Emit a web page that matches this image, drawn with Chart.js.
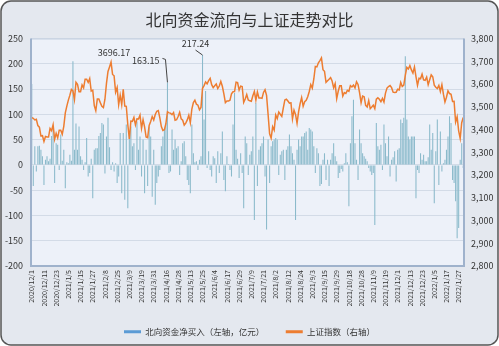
<!DOCTYPE html>
<html>
<head>
<meta charset="utf-8">
<script src="https://cdn.jsdelivr.net/npm/chart.js@4.4.0/dist/chart.umd.min.js"></script>
<style>
  html, body { margin: 0; padding: 0; background: #fff; }
  canvas { display: block; }
</style>
</head>
<body>
<canvas id="chart" width="499" height="346"></canvas>
<script>
// one tick label every 8 trading days
const tickLabels = [
  '2020/12/1', '2020/12/11', '2020/12/23', '2021/1/5', '2021/1/15', '2021/1/27',
  '2021/2/8', '2021/2/25', '2021/3/9', '2021/3/19', '2021/3/31', '2021/4/16',
  '2021/4/28', '2021/5/13', '2021/5/25', '2021/6/4', '2021/6/17', '2021/6/29',
  '2021/7/9', '2021/7/21', '2021/8/2', '2021/8/12', '2021/8/24', '2021/9/3',
  '2021/9/15', '2021/9/29', '2021/10/18', '2021/10/28', '2021/11/9', '2021/11/19',
  '2021/12/1', '2021/12/13', '2021/12/23', '2022/1/5', '2022/1/17', '2022/1/27'
];

// 北向资金净买入 (亿元)
const netBuy = [
  160, -42, 37, -13, 37, 38, 30, 17,
  -40, 10, 17, 7, 12, 57, 76, -36,
  43, 40, -10, 60, 8, 30, -46, 5,
  3, 20, 8, 205, 30, 82, 30, 76,
  17, 10, -10, 5, 53, -23, -16, 12,
  -66, 30, 33, 33, 57, 63, 83, 80,
  -17, 56, 93, 35, -10, 5, -13, 3,
  -36, -23, 63, -56, 63, -69, 80, -86,
  63, 76, 37, 43, -10, 86, 30, 56,
  -23, 50, -56, 30, -42, 76, 56, -63,
  30, -79, -36, -23, -10, 37, 56, 70,
  83, 163.15, -16, -13, 70, 30, 50, 33,
  37, -20, 7, 43, 47, 17, -30, -40,
  -56, 80, 23, 5, 7, -10, 10, 17,
  217.24, 90, 146, -6, 27, -10, -23, 17,
  13, -36, 27, -16, 23, 66, -30, -52,
  17, 2, -10, -23, 80, 142, 30, 12,
  -26, 23, -16, -86, 56, 43, -20, 20,
  27, 56, -109, 123, -42, 30, 37, 43,
  56, -23, -128, 50, -36, 37, 47, 50,
  53, 50, -20, 20, 27, 30, -30, 30,
  37, 60, 37, 23, 10, -109, 30, 50,
  37, 56, 56, 63, 66, 30, 73, 70,
  66, 37, -16, 33, 23, -42, -38, 10,
  23, -30, 10, -42, 10, 23, 43, 17,
  7, -26, -16, -8, -13, 3, 23, 5,
  -82, 43, 96, 129, 43, 10, -30, 70,
  43, 23, 17, 12, 7, -6, -13, -20,
  -16, -119, 83, 37, 30, 40, -10, 80,
  43, 17, 56, -23, 10, 15, 27, -33,
  30, 33, 90, 83, 93, 215, 90, 56,
  50, 56, 56, 56, -66, -10, -16, 23,
  10, 20, 7, 7, 15, 80, 30, 63,
  -76, 27, 90, -40, 66, -13, 3, 10,
  30, 56, 96, 83, -30, -36, -72, -145,
  -125, 10, 43, -6
];

// 上证指数 close
const shIndex = [
  3452, 3449, 3442, 3445, 3417, 3410, 3372, 3373,
  3347, 3369, 3367, 3367, 3405, 3395, 3421, 3357,
  3383, 3363, 3397, 3397, 3379, 3414, 3473, 3503,
  3529, 3551, 3576, 3570, 3532, 3608, 3599, 3566,
  3566, 3596, 3583, 3621, 3621, 3607, 3624, 3569,
  3573, 3505, 3483, 3534, 3534, 3517, 3502, 3496,
  3533, 3603, 3655, 3675, 3696.17, 3642, 3636, 3564,
  3585, 3509, 3551, 3509, 3577, 3503, 3502, 3421,
  3359, 3437, 3436, 3453, 3420, 3447, 3446, 3463,
  3405, 3443, 3412, 3367, 3364, 3418, 3435, 3457,
  3442, 3466, 3480, 3483, 3451, 3413, 3396, 3399,
  3427, 3478, 3473, 3472, 3465, 3474, 3441, 3443,
  3457, 3475, 3447, 3441, 3419, 3428, 3442, 3463,
  3430, 3490, 3518, 3529, 3511, 3507, 3487, 3497,
  3581, 3593, 3609, 3601, 3615, 3625, 3597, 3584,
  3592, 3600, 3580, 3591, 3611, 3590, 3557, 3518,
  3525, 3525, 3529, 3557, 3566, 3567, 3608, 3606,
  3573, 3591, 3589, 3519, 3534, 3554, 3530, 3526,
  3524, 3548, 3567, 3529, 3565, 3539, 3539, 3537,
  3563, 3575, 3550, 3467, 3381, 3362, 3412, 3397,
  3464, 3448, 3477, 3467, 3458, 3495, 3530, 3533,
  3525, 3516, 3517, 3447, 3485, 3466, 3427, 3477,
  3514, 3540, 3502, 3522, 3528, 3544, 3567, 3597,
  3582, 3622, 3677, 3675, 3693, 3703, 3715, 3663,
  3656, 3607, 3614, 3621, 3628, 3613, 3583, 3602,
  3536, 3568, 3592, 3592, 3547, 3562, 3558, 3572,
  3568, 3593, 3587, 3595, 3583, 3610, 3598, 3562,
  3518, 3547, 3544, 3506, 3499, 3527, 3492, 3499,
  3507, 3492, 3533, 3539, 3533, 3522, 3537, 3521,
  3560, 3582, 3589, 3593, 3584, 3564, 3563, 3564,
  3577, 3574, 3607, 3589, 3595, 3638, 3673, 3666,
  3681, 3662, 3648, 3675, 3632, 3594, 3625, 3623,
  3643, 3618, 3616, 3630, 3597, 3619, 3640, 3632,
  3595, 3586, 3580, 3594, 3567, 3597, 3555, 3521,
  3542, 3570, 3558, 3555, 3523, 3524, 3433, 3456,
  3394, 3361, 3430, 3453
];

const peakIdx = 52;           // 3696.17
const barNotes = [89, 112];   // 163.15, 217.24

const FONT = "'Noto Sans CJK SC', 'Noto Sans', sans-serif";
const BAR_COLOR = '#8bbacb';
const LEGEND_BAR = '#5b9bd5';
const LINE_COLOR = '#ed7d31';

const frame = {
  id: 'frame',
  beforeDraw(chart) {
    const { ctx, chartArea: a } = chart;
    ctx.save();
    ctx.fillStyle = '#ffffff';
    ctx.fillRect(0, 0, chart.width, chart.height);
    ctx.beginPath();
    ctx.roundRect(1, 1, chart.width - 2, chart.height - 2, 10);
    ctx.fillStyle = '#e4e8ef';
    ctx.fill();
    ctx.lineWidth = 1.5;
    ctx.strokeStyle = '#555';
    ctx.stroke();
    ctx.fillStyle = '#edf1f9';
    ctx.fillRect(a.left, a.top, a.right - a.left, a.bottom - a.top);
    ctx.restore();
  },
  afterDraw(chart) {
    const { ctx, chartArea: a } = chart;
    ctx.save();
    ctx.strokeStyle = '#c3cfe0';
    ctx.lineWidth = 1;
    ctx.strokeRect(a.left + 0.5, a.top + 0.5, a.right - a.left - 1, a.bottom - a.top - 1);
    ctx.strokeStyle = '#9fb2cc';
    ctx.lineWidth = 2;
    ctx.beginPath();
    ctx.moveTo(a.left, a.top);
    ctx.lineTo(a.left, a.bottom);
    ctx.lineTo(a.right, a.bottom);
    ctx.lineTo(a.right, a.top);
    ctx.stroke();
    ctx.restore();
  }
};

const notes = {
  id: 'notes',
  afterDatasetsDraw(chart) {
    const { ctx } = chart;
    const bars = chart.getDatasetMeta(0).data;
    const pts = chart.getDatasetMeta(1).data;
    ctx.save();
    ctx.font = '9px ' + FONT;
    ctx.fillStyle = '#333';
    ctx.strokeStyle = '#444';
    ctx.lineWidth = 1;
    ctx.textBaseline = 'middle';

    const p = pts[peakIdx];
    ctx.textAlign = 'center';
    ctx.fillText(String(shIndex[peakIdx]), p.x + 3, p.y - 10);

    const b1 = bars[barNotes[0]];
    ctx.textAlign = 'right';
    ctx.fillText(String(netBuy[barNotes[0]]), b1.x - 8, b1.y - 22);
    ctx.beginPath();
    ctx.moveTo(b1.x - 5, b1.y - 24);
    ctx.lineTo(b1.x - 2, b1.y - 23);
    ctx.lineTo(b1.x, b1.y);
    ctx.stroke();

    const b2 = bars[barNotes[1]];
    ctx.textAlign = 'center';
    ctx.fillText(String(netBuy[barNotes[1]]), b2.x - 7, b2.y - 11);
    ctx.beginPath();
    ctx.moveTo(b2.x - 7, b2.y - 5);
    ctx.lineTo(b2.x, b2.y);
    ctx.stroke();
    ctx.restore();
  }
};

new Chart(document.getElementById('chart').getContext('2d'), {
  type: 'bar',
  data: {
    labels: netBuy.map((_, i) => i),
    datasets: [
      {
        type: 'bar',
        label: '北向资金净买入（左轴，亿元）',
        data: netBuy,
        backgroundColor: BAR_COLOR,
        barPercentage: 0.7,
        categoryPercentage: 1,
        yAxisID: 'y',
        order: 1,
      },
      {
        type: 'line',
        label: '上证指数（右轴）',
        data: shIndex,
        borderColor: LINE_COLOR,
        backgroundColor: LINE_COLOR,
        borderWidth: 1.5,
        pointRadius: 0,
        tension: 0,
        yAxisID: 'y1',
        order: 0,
      },
    ],
  },
  options: {
    responsive: false,
    animation: false,
    layout: { padding: { top: 0, bottom: 0, left: 0, right: 0 } },
    plugins: {
      title: {
        display: true,
        text: '北向资金流向与上证走势对比',
        color: '#333',
        font: { family: FONT, size: 16, weight: 'normal' },
        padding: { top: 10, bottom: 9.3 },
      },
      legend: {
        position: 'bottom',
        labels: {
          color: '#333',
          font: { family: FONT, size: 8.5 },
          boxWidth: 17,
          boxHeight: 3,
          padding: 21.5,
          sort: (a, b) => a.datasetIndex - b.datasetIndex,
          generateLabels(chart) {
            const items = Chart.defaults.plugins.legend.labels.generateLabels(chart);
            items.forEach((it) => {
              const c = it.datasetIndex === 0 ? LEGEND_BAR : LINE_COLOR;
              it.fillStyle = c;
              it.strokeStyle = c;
              it.lineWidth = 0;
            });
            return items;
          },
        },
      },
      tooltip: { enabled: false },
    },
    scales: {
      x: {
        grid: { display: false, drawTicks: false },
        border: { display: false },
        ticks: {
          autoSkip: false,
          minRotation: 90,
          maxRotation: 90,
          padding: 4,
          color: '#333',
          font: { family: FONT, size: 7 },
          callback: (v, i) => (i % 8 === 0 ? tickLabels[i / 8] : ''),
        },
        afterFit: (s) => { s.height = 40; },
      },
      y: {
        position: 'left',
        min: -200,
        max: 250,
        grid: { color: '#d3dbe7', drawTicks: false },
        border: { display: false },
        ticks: {
          stepSize: 50,
          padding: 8,
          color: '#333',
          font: { family: FONT, size: 9 },
        },
        afterFit: (s) => { s.width = 31; },
      },
      y1: {
        position: 'right',
        min: 2800,
        max: 3800,
        grid: { display: false, drawTicks: false },
        border: { display: false },
        ticks: {
          stepSize: 100,
          padding: 7,
          color: '#333',
          font: { family: FONT, size: 9 },
          callback: (v) => v.toLocaleString('en-US'),
        },
        afterFit: (s) => { s.width = 35; },
      },
    },
  },
  plugins: [frame, notes],
});
</script>
</body>
</html>
